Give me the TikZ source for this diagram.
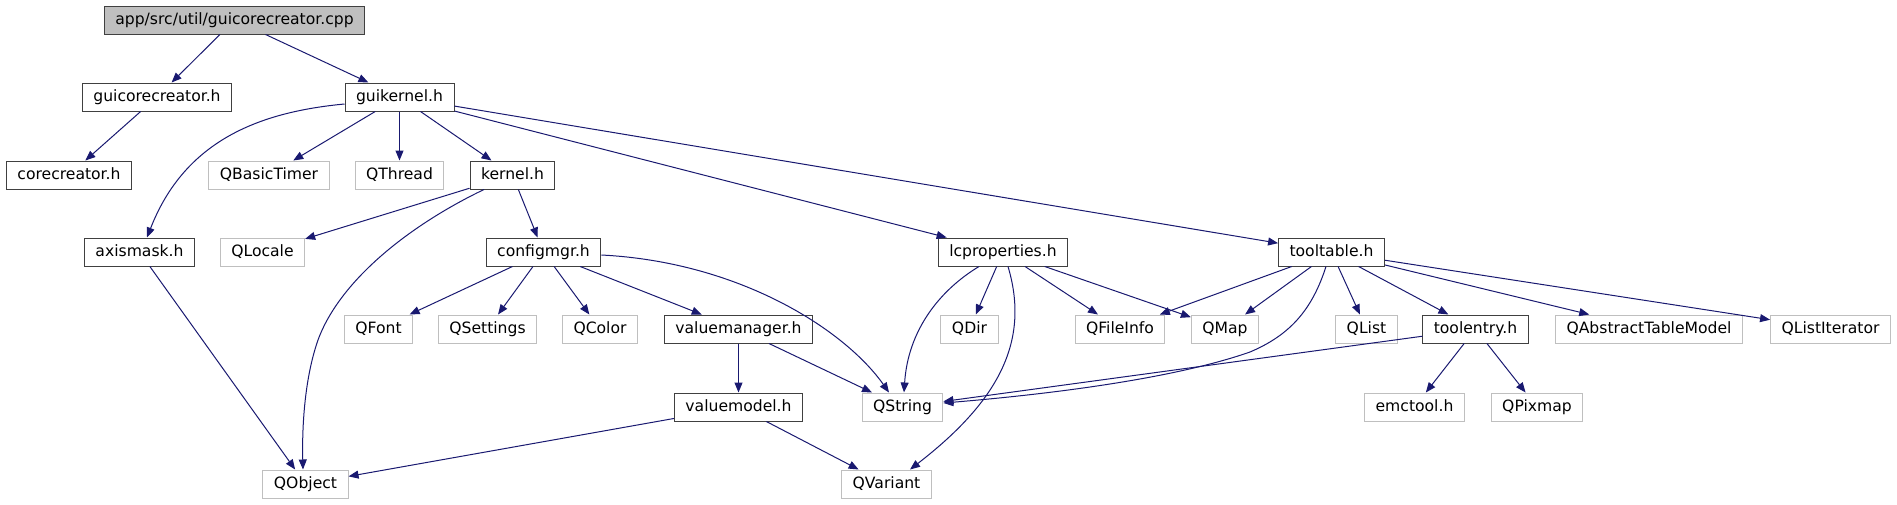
\documentclass[tikz,border=0pt]{standalone}
\usepackage{fontspec}
\setmainfont{DejaVu Sans}
\usetikzlibrary{arrows.meta}
\definecolor{edgeblue}{HTML}{191970}
\definecolor{docgray}{HTML}{404040}
\definecolor{extgray}{HTML}{BFBFBF}
\tikzset{
  basebox/.style={rectangle, minimum height=28pt, inner xsep=11pt, inner ysep=0pt,
    font=\fontsize{15.6}{18}\selectfont, line width=1pt, text height=11.5pt, text depth=3.5pt},
  docbox/.style={basebox, draw=docgray},
  extbox/.style={basebox, draw=extgray},
  mainbox/.style={basebox, draw=docgray, fill=extgray},
  dep/.style={draw=edgeblue, line width=1pt, -{Triangle[length=10pt,width=8pt]}}
}
\begin{document}
\begin{tikzpicture}[x=1pt,y=-1pt]
\path[use as bounding box] (0,0) rectangle (1897,504);
% nodes
\node[mainbox] (main) at (234.5,20) {app/src/util/guicorecreator.cpp};
\node[docbox] (gcc) at (157,97) {guicorecreator.h};
\node[docbox] (gk) at (399.5,97) {guikernel.h};
\node[docbox] (cc) at (69,175) {corecreator.h};
\node[extbox] (qbt) at (269,175) {QBasicTimer};
\node[extbox] (qth) at (399.5,175) {QThread};
\node[docbox] (ker) at (512.5,175) {kernel.h};
\node[docbox] (axm) at (139.5,252) {axismask.h};
\node[extbox] (qlo) at (262.5,252) {QLocale};
\node[docbox] (cfg) at (543.5,252) {configmgr.h};
\node[docbox] (lcp) at (1003,252) {lcproperties.h};
\node[docbox] (tt) at (1331.5,252) {tooltable.h};
\node[extbox] (qfo) at (378.5,329) {QFont};
\node[extbox] (qse) at (487.5,329) {QSettings};
\node[extbox] (qco) at (600,329) {QColor};
\node[docbox] (vmg) at (738.5,329) {valuemanager.h};
\node[extbox] (qdi) at (969.5,329) {QDir};
\node[extbox] (qfi) at (1120,329) {QFileInfo};
\node[extbox] (qma) at (1225,329) {QMap};
\node[extbox] (qli) at (1366.5,329) {QList};
\node[docbox] (te) at (1475.5,329) {toolentry.h};
\node[extbox] (qat) at (1649,329) {QAbstractTableModel};
\node[extbox] (qlit) at (1830.5,329) {QListIterator};
\node[docbox] (vmo) at (738.5,407) {valuemodel.h};
\node[extbox] (qst) at (902.5,407) {QString};
\node[extbox] (emc) at (1414.5,407) {emctool.h};
\node[extbox] (qpi) at (1537,407) {QPixmap};
\node[extbox] (qob) at (305.5,484) {QObject};
\node[extbox] (qva) at (886.5,484) {QVariant};
% straight edges
\draw[dep] (main) -- (gcc);
\draw[dep] (main) -- (gk);
\draw[dep] (gcc) -- (cc);
\draw[dep] (gk) -- (qbt);
\draw[dep] (gk) -- (qth);
\draw[dep] (gk) -- (ker);
\draw[dep] (gk) -- (lcp);
\draw[dep] (gk) -- (tt);
\draw[dep] (ker) -- (qlo);
\draw[dep] (ker) -- (cfg);
\draw[dep] (axm) -- (qob);
\draw[dep] (cfg) -- (qfo);
\draw[dep] (cfg) -- (qse);
\draw[dep] (cfg) -- (qco);
\draw[dep] (cfg) -- (vmg);
\draw[dep] (vmg) -- (vmo);
\draw[dep] (vmg) -- (qst);
\draw[dep] (vmo) -- (qob);
\draw[dep] (vmo) -- (qva);
\draw[dep] (lcp) -- (qdi);
\draw[dep] (lcp) -- (qfi);
\draw[dep] (lcp) -- (qma);
\draw[dep] (tt) -- (qfi);
\draw[dep] (tt) -- (qma);
\draw[dep] (tt) -- (qli);
\draw[dep] (tt) -- (te);
\draw[dep] (tt) -- (qat);
\draw[dep] (tt) -- (qlit);
\draw[dep] (te) -- (qst);
\draw[dep] (te) -- (emc);
\draw[dep] (te) -- (qpi);
% curved edges
\draw[dep] ([yshift=-7pt]gk.west) .. controls (260,112) and (185,140) .. ([xshift=7.5pt]axm.north);
\draw[dep] ([xshift=-28.5pt]ker.south) .. controls (410,225) and (340,280) .. (318,340)
  .. controls (304,380) and (302,430) .. ([xshift=-2.5pt]qob.north);
\draw[dep] ([yshift=-3pt]cfg.east) .. controls (740,262) and (845,330) .. ([xshift=-13.5pt]qst.north);
\draw[dep] ([xshift=-24pt]lcp.south) .. controls (940,290) and (908,330) .. ([xshift=1.5pt]qst.north);
\draw[dep] ([xshift=5pt]lcp.south) .. controls (1030,340) and (1000,400) .. ([xshift=23.5pt]qva.north);
\draw[dep] ([xshift=-5.5pt]tt.south) .. controls (1312,310) and (1290,335) .. (1250,352)
  .. controls (1170,380) and (1040,395) .. ([yshift=4pt]qst.east);
\end{tikzpicture}
\end{document}
